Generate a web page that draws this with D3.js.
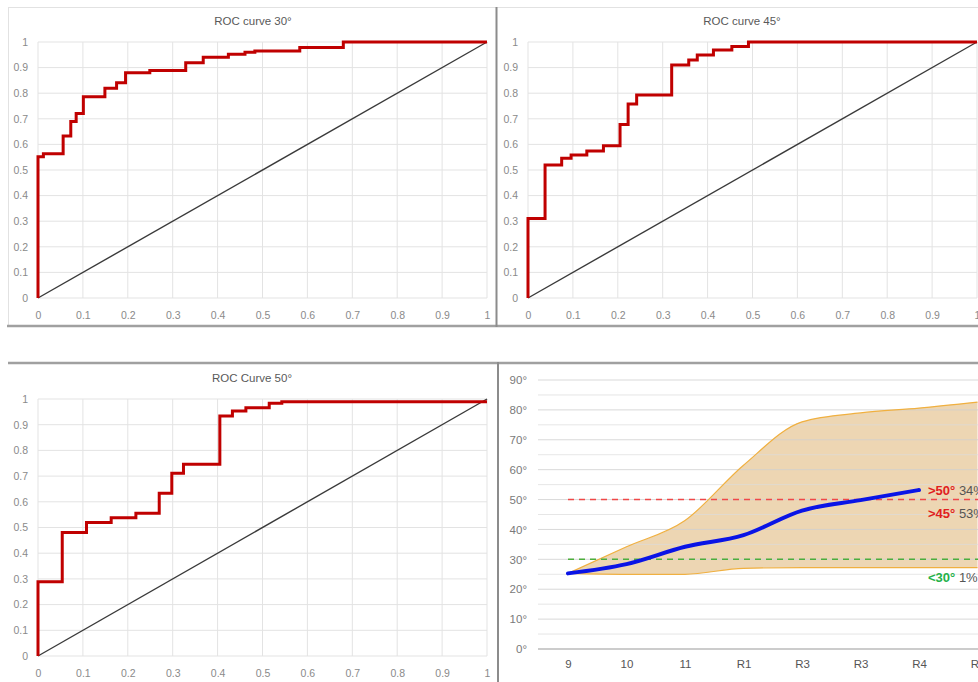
<!DOCTYPE html>
<html>
<head>
<meta charset="utf-8">
<script src="https://cdn.jsdelivr.net/npm/d3@7/dist/d3.min.js"></script>
<style>
  body { margin: 0; background: #fff; }
  svg { display: block; font-family: "Liberation Sans", Arial, sans-serif; }
</style>
</head>
<body>
<div id="chart"></div>
<script>
// ROC step points: false positive rate / true positive rate
var roc30Fpr = [0, 0, 0.012, 0.056, 0.073, 0.085, 0.101, 0.149, 0.175, 0.195, 0.249, 0.329, 0.368, 0.424, 0.461, 0.483, 0.583, 0.68, 1];
var roc30Tpr = [0, 0.552, 0.563, 0.633, 0.689, 0.721, 0.786, 0.819, 0.841, 0.88, 0.889, 0.919, 0.94, 0.952, 0.96, 0.965, 0.979, 1, 1];

var roc45Fpr = [0, 0, 0.038, 0.075, 0.096, 0.131, 0.168, 0.205, 0.223, 0.242, 0.32, 0.358, 0.377, 0.413, 0.454, 0.491, 1];
var roc45Tpr = [0, 0.311, 0.52, 0.546, 0.559, 0.574, 0.595, 0.678, 0.758, 0.793, 0.91, 0.93, 0.949, 0.969, 0.982, 1, 1];

var roc50Fpr = [0, 0, 0.054, 0.108, 0.163, 0.218, 0.27, 0.298, 0.324, 0.405, 0.433, 0.463, 0.515, 0.543, 1];
var roc50Tpr = [0, 0.289, 0.481, 0.519, 0.538, 0.555, 0.633, 0.711, 0.746, 0.934, 0.953, 0.966, 0.983, 0.989, 0.989];

var rocTicks = [0, 0.1, 0.2, 0.3, 0.4, 0.5, 0.6, 0.7, 0.8, 0.9, 1];

// angle progression chart
var stageLabels = ["9", "10", "11", "R1", "R3", "R3", "R4", "R5"];
var angleMean = [25.3, 28.4, 34.2, 38.1, 46.3, 49.8, 53.2];
var angleUpper = [25.3, 34.2, 43, 61.5, 76, 79, 80.6, 82.6];
var angleLower = [25.3, 25, 25, 27, 27.2, 27.2, 27.2, 27.2];
var angleTicks = [0, 10, 20, 30, 40, 50, 60, 70, 80, 90];
var angleMinorTicks = [5, 15, 25, 35, 45, 55, 65, 75, 85];
var thresholds = [50, 30];
var annotations = [
  { tag: ">50°", pct: "34%", cls: "red" },
  { tag: ">45°", pct: "53%", cls: "red" },
  { tag: "<30°", pct: "1%", cls: "green" }
];

var W = 978, H = 682;
var svg = d3.select("#chart").append("svg").attr("width", W).attr("height", H);

// panel frames
var frame = svg.append("g");
frame.append("line").attr("x1", 8).attr("x2", W).attr("y1", 7.5).attr("y2", 7.5).attr("stroke", "#e2e2e2");
frame.append("line").attr("x1", 8.5).attr("x2", 8.5).attr("y1", 7).attr("y2", 326).attr("stroke", "#e2e2e2");
frame.append("line").attr("x1", 7).attr("x2", W).attr("y1", 326).attr("y2", 326).attr("stroke", "#a0a0a0").attr("stroke-width", 2.5);
frame.append("line").attr("x1", 496.5).attr("x2", 496.5).attr("y1", 7).attr("y2", 327).attr("stroke", "#8c8c8c").attr("stroke-width", 2);
frame.append("line").attr("x1", 8).attr("x2", W).attr("y1", 363).attr("y2", 363).attr("stroke", "#a0a0a0").attr("stroke-width", 2.5);
frame.append("line").attr("x1", 498).attr("x2", 498).attr("y1", 362).attr("y2", H).attr("stroke", "#8c8c8c").attr("stroke-width", 2);

function drawRoc(box, title, titleX, fpr, tpr) {
  var x = d3.scaleLinear().domain([0, 1]).range([box.left, box.right]);
  var y = d3.scaleLinear().domain([0, 1]).range([box.bottom, box.top]);
  var g = svg.append("g");

  // grid
  g.selectAll(".gx").data(rocTicks).enter().append("line")
    .attr("x1", function (d) { return x(d); }).attr("x2", function (d) { return x(d); })
    .attr("y1", box.top).attr("y2", box.bottom)
    .attr("stroke", "#e3e3e3").attr("stroke-width", 1);
  g.selectAll(".gy").data(rocTicks).enter().append("line")
    .attr("y1", function (d) { return y(d); }).attr("y2", function (d) { return y(d); })
    .attr("x1", box.left).attr("x2", box.right)
    .attr("stroke", "#e3e3e3").attr("stroke-width", 1);

  // axes (labels only)
  var fmt = d3.format("~g");
  var ax = g.append("g").attr("transform", "translate(0," + box.bottom + ")")
    .call(d3.axisBottom(x).tickValues(rocTicks).tickFormat(fmt).tickSize(0).tickPadding(14));
  var ay = g.append("g").attr("transform", "translate(" + box.left + ",0)")
    .call(d3.axisLeft(y).tickValues(rocTicks).tickFormat(fmt).tickSize(0).tickPadding(10));
  [ax, ay].forEach(function (a) {
    a.select(".domain").remove();
    a.selectAll("text").attr("fill", "#8a8a8a").style("font-size", "10.5px");
  });

  // chance line
  g.append("line")
    .attr("x1", x(0)).attr("y1", y(0)).attr("x2", x(1)).attr("y2", y(1))
    .attr("stroke", "#3a3a3a").attr("stroke-width", 1.4);

  // roc curve
  var pts = fpr.map(function (f, i) { return [f, tpr[i]]; });
  g.append("path").datum(pts)
    .attr("fill", "none")
    .attr("stroke", "#c00000")
    .attr("stroke-width", 3)
    .attr("d", d3.line()
      .x(function (d) { return x(d[0]); })
      .y(function (d) { return y(d[1]); })
      .curve(d3.curveStepAfter));

  g.append("text")
    .attr("x", titleX).attr("y", box.top - 17)
    .attr("text-anchor", "middle")
    .attr("fill", "#595959")
    .style("font-size", "11.5px")
    .text(title);
}

drawRoc({ left: 38, right: 487, top: 42, bottom: 298 }, "ROC curve 30°", 253, roc30Fpr, roc30Tpr);
drawRoc({ left: 528, right: 977, top: 42, bottom: 298 }, "ROC curve 45°", 742, roc45Fpr, roc45Tpr);
drawRoc({ left: 38, right: 487, top: 399, bottom: 656 }, "ROC Curve 50°", 252, roc50Fpr, roc50Tpr);

// angle progression chart
var ag = svg.append("g");
var plotLeft = 538, plotRight = W;
var xs = d3.scalePoint().domain(d3.range(stageLabels.length)).range([568, 977.5]);
var ys = d3.scaleLinear().domain([0, 90]).range([649, 380]);

// range band (under the grid so the lines show through)
var band = d3.area()
  .x(function (d, i) { return xs(i); })
  .y0(function (d, i) { return ys(angleLower[i]); })
  .y1(function (d) { return ys(d); })
  .curve(d3.curveMonotoneX);
ag.append("path").datum(angleUpper)
  .attr("fill", "#dcae68").attr("fill-opacity", 0.5)
  .attr("d", band);

ag.selectAll(".minor").data(angleMinorTicks).enter().append("line")
  .attr("x1", plotLeft).attr("x2", plotRight)
  .attr("y1", function (d) { return ys(d); }).attr("y2", function (d) { return ys(d); })
  .attr("stroke", "#dcdcdc").attr("stroke-opacity", 0.7);
ag.selectAll(".major").data(angleTicks.slice(1)).enter().append("line")
  .attr("x1", plotLeft).attr("x2", plotRight)
  .attr("y1", function (d) { return ys(d); }).attr("y2", function (d) { return ys(d); })
  .attr("stroke", "#cfcfcf").attr("stroke-opacity", 0.8);
ag.append("line")
  .attr("x1", plotLeft).attr("x2", plotRight)
  .attr("y1", ys(0)).attr("y2", ys(0))
  .attr("stroke", "#9a9a9a").attr("stroke-width", 1.2);

var yAxis = ag.append("g").attr("transform", "translate(" + 527 + ",0)")
  .call(d3.axisLeft(ys).tickValues(angleTicks).tickFormat(function (d) { return d + "°"; }).tickSize(0).tickPadding(0));
yAxis.select(".domain").remove();
yAxis.selectAll("text").attr("fill", "#7a7a7a").style("font-size", "11.5px");

var xAxis = ag.append("g").attr("transform", "translate(0," + ys(0) + ")")
  .call(d3.axisBottom(xs).tickFormat(function (i) { return stageLabels[i]; }).tickSize(0).tickPadding(11));
xAxis.select(".domain").remove();
xAxis.selectAll("text").attr("fill", "#555").style("font-size", "11.5px");

var edge = d3.line().x(function (d, i) { return xs(i); }).y(function (d) { return ys(d); }).curve(d3.curveMonotoneX);
ag.append("path").datum(angleUpper).attr("fill", "none").attr("stroke", "#f0b040").attr("stroke-width", 1.2).attr("d", edge);
ag.append("path").datum(angleLower).attr("fill", "none").attr("stroke", "#f0b040").attr("stroke-width", 1.2).attr("d", edge);

// thresholds
var thrColors = ["#f04848", "#4cae3c"];
ag.selectAll(".thr").data(thresholds).enter().append("line")
  .attr("x1", xs(0)).attr("x2", plotRight)
  .attr("y1", function (d) { return ys(d); }).attr("y2", function (d) { return ys(d); })
  .attr("stroke", function (d, i) { return thrColors[i]; })
  .attr("stroke-width", 1.5)
  .attr("stroke-dasharray", "6,5");

// mean line
ag.append("path").datum(angleMean)
  .attr("fill", "none").attr("stroke", "#0a14e6").attr("stroke-width", 4)
  .attr("stroke-linecap", "round")
  .attr("d", edge);

// annotations
var annY = [ys(51.5), ys(43.8), ys(22.4)];
var annColor = { red: "#e0201e", green: "#25b24a" };
annotations.forEach(function (a, i) {
  var t = ag.append("text").attr("x", 928).attr("y", annY[i]).style("font-size", "13px");
  t.append("tspan").attr("fill", annColor[a.cls]).attr("font-weight", "bold").text(a.tag);
  t.append("tspan").attr("fill", "#555").text(" " + a.pct);
});
</script>
</body>
</html>
